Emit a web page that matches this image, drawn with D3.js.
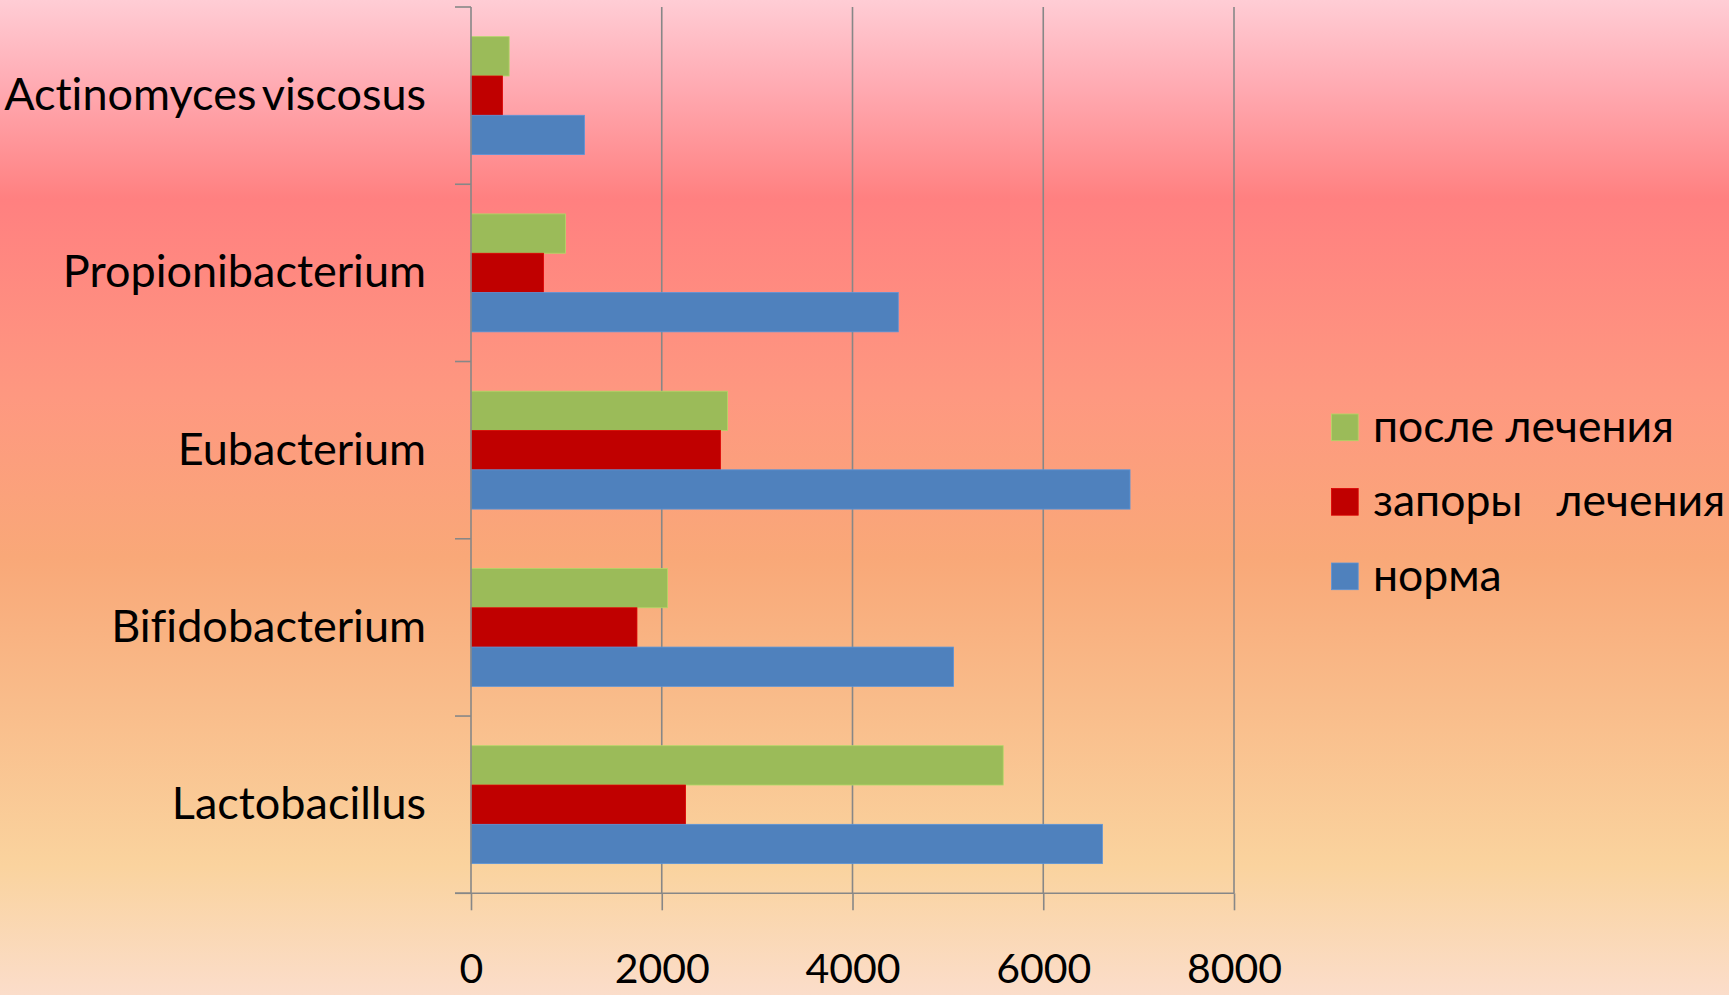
<!DOCTYPE html>
<html>
<head>
<meta charset="utf-8">
<script src="https://cdn.jsdelivr.net/npm/d3@7"></script>
<style>
  html, body { margin: 0; padding: 0; overflow: hidden; }
  body { width: 1729px; height: 995px; }
  svg { display: block; }
  text { font-family: Lato, "Open Sans", sans-serif; fill: #000; font-variant-ligatures: none; font-feature-settings: "liga" 0; }
</style>
</head>
<body>
<svg id="chart" width="1729" height="995"></svg>
<script>
// Bacteria groups, top to bottom
const categories = ["Actinomyces viscosus", "Propionibacterium", "Eubacterium", "Bifidobacterium", "Lactobacillus"];
// Series names (legend order, and order of bars within a group, top to bottom)
const seriesNames = ["после лечения", "запоры   лечения", "норма"];
const seriesColors = ["#9BBB59", "#C00000", "#4F81BD"];
// Values per series, in category order
const afterTreatment = [400, 990, 2690, 2060, 5580];
const constipation   = [330, 760, 2615, 1740, 2250];
const norm           = [1190, 4480, 6910, 5060, 6620];
const seriesValues = [afterTreatment, constipation, norm];
// Value axis ticks
const xTicks = [0, 2000, 4000, 6000, 8000];

const svg = d3.select("#chart");
const W = 1729, H = 995;

// Background gradient
const defs = svg.append("defs");
const grad = defs.append("linearGradient")
  .attr("id", "bg").attr("x1", 0).attr("y1", 0).attr("x2", 0).attr("y2", 1);
[
  [0.00, "#FFCDD5"],
  [0.08, "#FFADB5"],
  [0.20, "#FF8080"],
  [0.40, "#FE9880"],
  [0.56, "#F9A878"],
  [0.72, "#F9BE8C"],
  [0.87, "#FAD39E"],
  [1.00, "#FBDDCA"]
].forEach(([o, c]) => grad.append("stop").attr("offset", o).attr("stop-color", c));
svg.append("rect").attr("width", W).attr("height", H).attr("fill", "url(#bg)");

// Plot area
const plot = { left: 471, right: 1234, top: 7, bottom: 893.3 };

const x = d3.scaleLinear().domain([0, 8000]).range([plot.left, plot.right]);
const y = d3.scaleBand().domain(categories).range([plot.top, plot.bottom]);
const yInner = d3.scaleBand().domain(d3.range(seriesNames.length))
  .range([0, y.bandwidth()]).paddingOuter(0.755);

const gridColor = "#878787";

// Vertical gridlines
svg.append("g").selectAll("line")
  .data(xTicks.filter(t => t > 0))
  .join("line")
  .attr("x1", d => x(d)).attr("x2", d => x(d))
  .attr("y1", plot.top).attr("y2", plot.bottom)
  .attr("stroke", gridColor).attr("stroke-width", 1.6);

// Bars
const rows = [];
categories.forEach((c, ci) => {
  seriesValues.forEach((vals, si) => rows.push({ cat: c, si, v: vals[ci] }));
});
svg.append("g").selectAll("rect")
  .data(rows)
  .join("rect")
  .attr("x", x(0))
  .attr("y", d => y(d.cat) + yInner(d.si))
  .attr("width", d => x(d.v) - x(0))
  .attr("height", yInner.bandwidth())
  .attr("fill", d => seriesColors[d.si])
  .attr("stroke", d => d3.color(seriesColors[d.si]).brighter(0.4))
  .attr("stroke-width", 0.8);

// Category axis (left), ticks at band boundaries
const yAxis = svg.append("g");
yAxis.append("line")
  .attr("x1", plot.left).attr("x2", plot.left)
  .attr("y1", plot.top).attr("y2", plot.bottom)
  .attr("stroke", gridColor).attr("stroke-width", 1.6);
const bounds = categories.map(c => y(c)).concat([plot.bottom]);
yAxis.selectAll("line.tick")
  .data(bounds)
  .join("line")
  .attr("class", "tick")
  .attr("x1", plot.left - 16).attr("x2", plot.left)
  .attr("y1", d => d).attr("y2", d => d)
  .attr("stroke", gridColor).attr("stroke-width", 1.6);
yAxis.selectAll("text")
  .data(categories)
  .join("text")
  .attr("x", 426)
  .attr("y", d => y(d) + y.bandwidth() / 2)
  .attr("dy", "0.32em")
  .attr("text-anchor", "end")
  .attr("font-size", 45)
  .attr("word-spacing", -5)
  .text(d => d);

// Value axis (bottom)
const xAxis = svg.append("g")
  .attr("transform", `translate(0,${plot.bottom})`)
  .call(d3.axisBottom(x).tickValues(xTicks).tickSize(17).tickSizeOuter(0).tickFormat(d3.format("d")));
xAxis.select(".domain").remove();
xAxis.selectAll(".tick line").attr("stroke", gridColor).attr("stroke-width", 1.6);
xAxis.selectAll(".tick text")
  .attr("font-family", "Lato, 'Open Sans', sans-serif")
  .attr("font-size", 41)
  .attr("fill", "#000")
  .attr("y", 0).attr("dy", 0)
  .attr("transform", "translate(0,90)");
svg.append("line")
  .attr("x1", plot.left - 16).attr("x2", plot.right)
  .attr("y1", plot.bottom).attr("y2", plot.bottom)
  .attr("stroke", gridColor).attr("stroke-width", 1.6);

// Legend
const legend = svg.append("g").attr("transform", "translate(1331.5,414)");
const li = legend.selectAll("g")
  .data(seriesNames)
  .join("g")
  .attr("transform", (d, i) => `translate(0,${i * 74.5})`);
li.append("rect")
  .attr("width", 26.7).attr("height", 26.7)
  .attr("fill", (d, i) => seriesColors[i])
  .attr("stroke", (d, i) => d3.color(seriesColors[i]).brighter(0.4))
  .attr("stroke-width", 0.8);
li.append("text")
  .attr("x", 41.5).attr("y", 13.3)
  .attr("dy", "0.32em")
  .attr("font-size", 44.5)
  .style("white-space", "pre")
  .attr("xml:space", "preserve")
  .text(d => d);
</script>
</body>
</html>
